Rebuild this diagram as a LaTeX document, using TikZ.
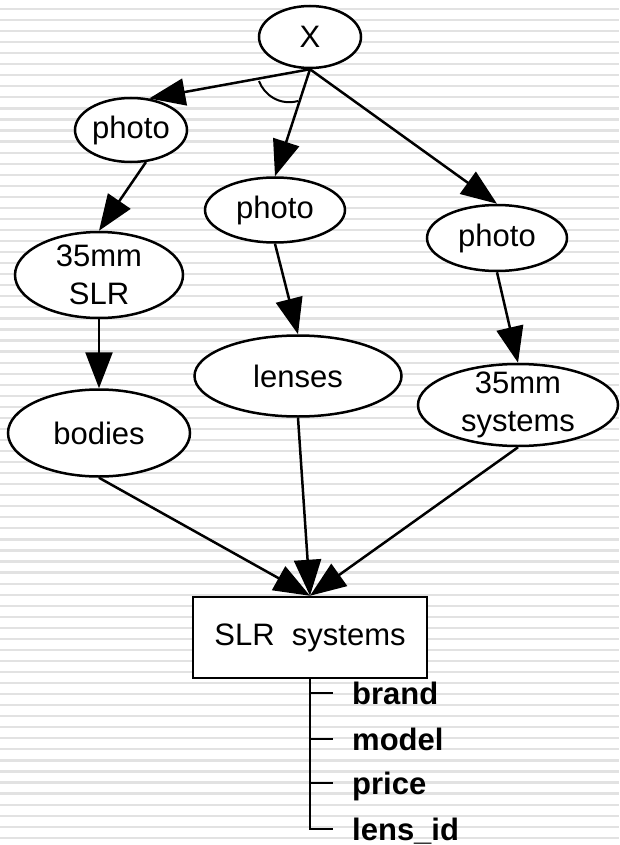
\documentclass[tikz,border=0pt]{standalone}
\usepackage{fontspec}
\setmainfont{Liberation Sans}
\usetikzlibrary{shapes.geometric,arrows.meta}
\definecolor{stripegray}{RGB}{226,226,226}

\begin{document}
\begin{tikzpicture}[x=1pt,y=-1pt,
ell/.style={ellipse,draw=black,fill=white,line width=2.5pt,inner sep=0pt,align=center,font=\fontsize{31}{38}\selectfont},
rel/.style={-{Triangle[length=36pt,width=27pt]},line width=2.5pt},
field/.style={anchor=west,inner sep=0pt,text height=22pt,text depth=0pt,font=\fontsize{31}{38}\selectfont\bfseries},
tree/.style={line width=2.5pt}]

% lined paper
\useasboundingbox (0,0) rectangle (619,845);
\fill [white] (0,0) rectangle (619,845);
\foreach \k in {0,...,76}
  \draw [stripegray,line width=2.2pt] (0,{9+11.05*\k}) -- (619,{9+11.05*\k});

\node (x) at (310,37) [ell,minimum width=102pt,minimum height=62pt] {X};

\node (photoA) at (131,130) [ell,minimum width=112pt,minimum height=64pt] {photo};
\node (photoB) at (275,210) [ell,minimum width=140pt,minimum height=65pt] {photo};
\node (photoC) at (497,238) [ell,minimum width=140pt,minimum height=66pt] {photo};

\node (slr) at (99,275) [ell,inner ysep=-8pt,minimum width=168pt,minimum height=86pt] {35mm\\SLR};
\node (bodies) at (99,433) [ell,minimum width=182pt,minimum height=87pt] {bodies};
\node (lenses) at (298,376) [ell,minimum width=207pt,minimum height=81pt] {lenses};
\node (systems) at (518,405) [ell,inner ysep=-8pt,minimum width=200pt,minimum height=82pt] {35mm\\systems};

\node (slrsys) at (310,637.5) [rectangle,draw,fill=white,line width=2.5pt,minimum width=234pt,minimum height=81pt,font=\fontsize{31}{38}\selectfont] {SLR~ systems};

\node (brand) at (352,693) [field] {brand};
\node (model) at (352,739) [field] {model};
\node (price) at (352,783) [field] {price};
\node (lensid) at (352,829) [field] {lens\_id};

\draw [rel] (x.south) -- (photoA.60);
\draw [rel] (x.south) -- (photoB.north);
\draw [rel] (x.south) -- (photoC.north);
\draw [line width=2pt] (259,81) .. controls (264,95) and (280,106) .. (298,101);

\draw [rel] (photoA.-65) -- (slr.north);
\draw [rel] (slr.south) -- (bodies.north);
\draw [rel] (photoB.south) -- (lenses.north);
\draw [rel] (photoC.south) -- (systems.north);

\draw [rel] (bodies.south) -- (slrsys.north);
\draw [rel] (lenses.south) -- (slrsys.north);
\draw [rel] (systems.south) -- (slrsys.north);

\draw [tree] (slrsys.south) |- ([xshift=-19pt]lensid.west);
\foreach \f in {brand,model,price}
  \draw [tree] (slrsys.south |- \f.west) -- ([xshift=-19pt]\f.west);

\end{tikzpicture}
\end{document}
